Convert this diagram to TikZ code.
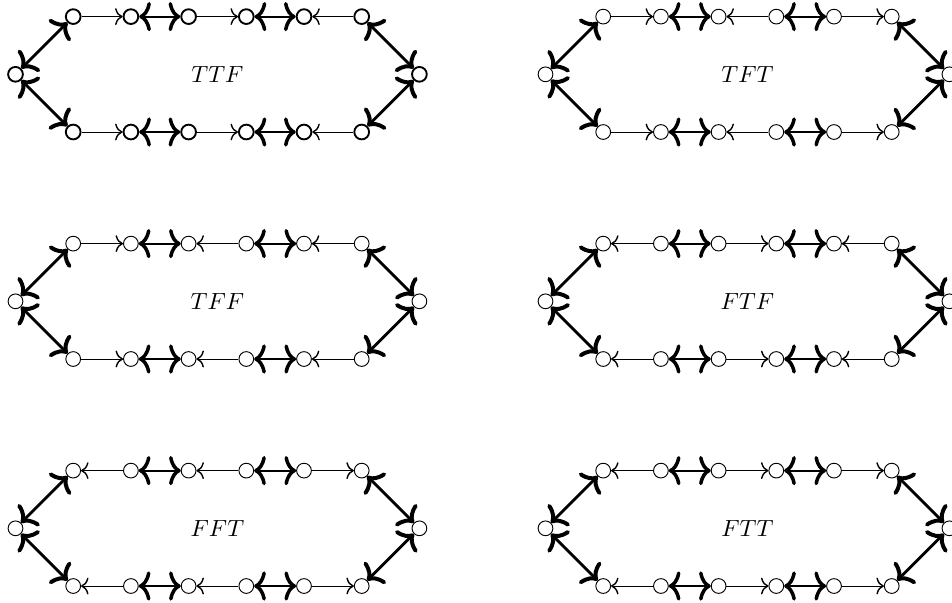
\documentclass[tikz,border=0pt]{standalone}
\usetikzlibrary{arrows.meta}
\tikzset{
  thintip/.tip={Computer Modern Rightarrow[width=7.2pt,length=3.2pt,line width=0.6pt]},
  boldtip/.tip={Computer Modern Rightarrow[width=12.5pt,length=5pt,line width=1.5pt]},
  diagtip/.tip={Computer Modern Rightarrow[width=13pt,length=5.4pt,line width=1.7pt]},
  vtx/.style={circle,draw,fill=white,inner sep=0pt,minimum size=6.3pt},
  vtxb/.style={vtx,thick},
  thinedge/.style={thin,>=thintip},
  boldedge/.style={thick,{boldtip}-{boldtip}},
  diagedge/.style={very thick,{diagtip}-{diagtip}},
}
\newcommand\gadget[8]{%
  \begin{scope}[shift={(#2,#3)}]
    \node[#8] (#1L) at (-201.95,0) {};
    \node[#8] (#1R) at (201.95,0) {};
    \foreach \k in {0,...,5}{
      \node[#8] (#1t\k) at ({-144.25+57.7*\k},-57.7) {};
      \node[#8] (#1b\k) at ({-144.25+57.7*\k},57.7) {};
    }
    \node (#1lab) at (0,0) {$#4$};
    \foreach \r in {t,b}{
      \draw[thinedge,#5] (#1\r0) -- (#1\r1);
      \draw[boldedge] (#1\r1) -- (#1\r2);
      \draw[thinedge,#6] (#1\r2) -- (#1\r3);
      \draw[boldedge] (#1\r3) -- (#1\r4);
      \draw[thinedge,#7] (#1\r4) -- (#1\r5);
    }
    \draw[diagedge] (#1L) -- (#1t0);
    \draw[diagedge] (#1L) -- (#1b0);
    \draw[diagedge] (#1R) -- (#1t5);
    \draw[diagedge] (#1R) -- (#1b5);
  \end{scope}}
\begin{document}
\begin{tikzpicture}[x=0.42735pt,y=-0.42735pt]
  \useasboundingbox (0,0) rectangle (952,602);
  \gadget{A}{217.45}{74.3}{TTF}{->}{->}{<-}{vtxb}
  \gadget{B}{747.45}{74.3}{TFT}{->}{<-}{->}{vtx}
  \gadget{C}{217.45}{301.3}{TFF}{->}{<-}{<-}{vtx}
  \gadget{D}{747.45}{301.3}{FTF}{<-}{->}{<-}{vtx}
  \gadget{E}{217.45}{528.3}{FFT}{<-}{<-}{->}{vtx}
  \gadget{F}{747.45}{528.3}{FTT}{<-}{->}{->}{vtx}
\end{tikzpicture}
\end{document}
